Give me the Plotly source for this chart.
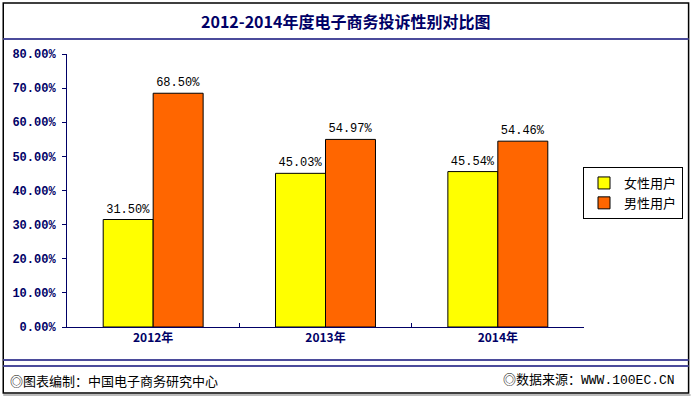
import plotly.graph_objects as go

categories = ["2012年", "2013年", "2014年"]
female = [31.50, 45.03, 45.54]
male = [68.50, 54.97, 54.46]
series_names = ["女性用户", "男性用户"]
y_ticks = [0, 10, 20, 30, 40, 50, 60, 70, 80]
y_tick_labels = ["0.00%", "10.00%", "20.00%", "30.00%", "40.00%", "50.00%", "60.00%", "70.00%", "80.00%"]
title_text = "2012-2014年度电子商务投诉性别对比图"
footer_left = "◎图表编制：中国电子商务研究中心"
footer_right = "◎数据来源：WWW.100EC.CN"

W, H = 695, 398
L, R, T, B = 67, 586, 54, 327
NAVY = "#000066"
CJK = "Noto Sans CJK SC"
NUM = "Liberation Mono, Noto Sans CJK SC"


def px(x):
    return (x - L) / (R - L)


def py(y):
    return (B - y) / (B - T)


fig = go.Figure()
fig.add_trace(go.Bar(
    x=categories, y=female, name=series_names[0],
    marker=dict(color="#FFFF00", line=dict(color="#000000", width=1)),
    text=[f"{v:.2f}%" for v in female], textposition="outside",
    textfont=dict(family=NUM, size=12, color="#000000"), cliponaxis=False,
))
fig.add_trace(go.Bar(
    x=categories, y=male, name=series_names[1],
    marker=dict(color="#FF6600", line=dict(color="#000000", width=1)),
    text=[f"{v:.2f}%" for v in male], textposition="outside",
    textfont=dict(family=NUM, size=12, color="#000000"), cliponaxis=False,
))

shapes = [
    dict(type="rect", xref="paper", yref="paper", x0=px(3), x1=px(691), y0=py(3), y1=py(393),
         line=dict(color="#000000", width=1.5), layer="below"),
    dict(type="line", xref="paper", yref="paper", x0=px(3), x1=px(691), y0=py(39), y1=py(39),
         line=dict(color="#4B4B9B", width=2)),
    dict(type="line", xref="paper", yref="paper", x0=px(3), x1=px(691), y0=py(360), y1=py(360),
         line=dict(color="#4B4B9B", width=2)),
    dict(type="line", xref="paper", yref="paper", x0=px(3), x1=px(691), y0=py(366), y1=py(366),
         line=dict(color="#4B4B9B", width=2)),
    dict(type="line", xref="paper", yref="paper", x0=px(3), x1=px(693), y0=py(395), y1=py(395),
         line=dict(color="#BBBBBB", width=2)),
]

annotations = [
    dict(text=title_text, xref="paper", yref="paper", x=px(347), y=py(21),
         xanchor="center", yanchor="middle", showarrow=False,
         font=dict(family=CJK, size=16, color=NAVY, weight="bold")),
    dict(text=footer_left, xref="paper", yref="paper", x=px(8), y=py(380),
         xanchor="left", yanchor="middle", showarrow=False,
         font=dict(family=CJK, size=13, color="#000000")),
    dict(text=footer_right, xref="paper", yref="paper", x=px(679), y=py(380),
         xanchor="right", yanchor="middle", showarrow=False,
         font=dict(family=NUM, size=13, color="#000000")),
]

fig.update_layout(
    width=W, height=H,
    margin=dict(l=L, r=W - R, t=T, b=H - B, pad=0),
    paper_bgcolor="#FFFFFF", plot_bgcolor="#FFFFFF",
    barmode="group", bargap=0.42, bargroupgap=0,
    showlegend=True,
    legend=dict(x=px(585), y=py(167), xanchor="left", yanchor="top",
                bordercolor="#000000", borderwidth=1, bgcolor="#FFFFFF",
                font=dict(family=CJK, size=13, color="#000000"),
                tracegroupgap=0, itemwidth=30),
    shapes=shapes, annotations=annotations,
    xaxis=dict(type="category", showgrid=False, showline=True, linecolor=NAVY, linewidth=1,
               ticks="inside", ticklen=4, tickcolor=NAVY, tickson="boundaries",
               tickfont=dict(family=CJK, size=12, color=NAVY, weight="bold"),
               fixedrange=True),
    yaxis=dict(range=[0, 80], tickvals=y_ticks, ticktext=y_tick_labels,
               showgrid=False, zeroline=False, showline=True, linecolor=NAVY, linewidth=1,
               ticks="outside", ticklen=4, tickcolor=NAVY,
               tickfont=dict(family=NUM, size=12, color=NAVY, weight="bold"),
               ticklabelstandoff=4, fixedrange=True),
)

fig.write_html(
    "out.html", config={"displayModeBar": False},
    post_script=("document.documentElement.style.margin='0';"
                 "document.documentElement.style.overflow='hidden';"
                 "document.body.style.margin='0';"
                 "document.body.style.overflow='hidden';"),
)
